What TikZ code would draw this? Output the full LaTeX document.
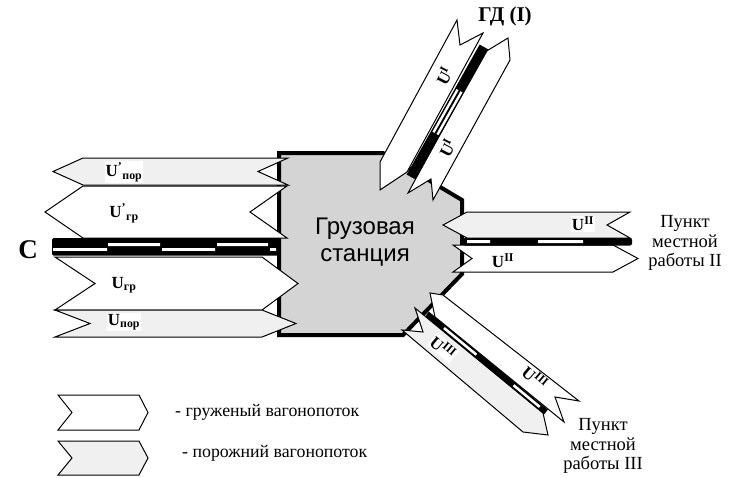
\documentclass[tikz,border=0pt]{standalone}
\usepackage{fontspec}
\setmainfont{Liberation Serif}
\newfontfamily\arialf{Liberation Sans}
\definecolor{stgray}{HTML}{D4D4D4}
\definecolor{emptyfill}{HTML}{F0F0F0}
\begin{document}
\begin{tikzpicture}[x=1pt,y=-1pt,
  loaded/.style={draw=black, line width=1pt, line join=miter, fill=white},
  emptyflow/.style={draw=black, line width=1pt, line join=miter, fill=emptyfill},
  lbl/.style={font=\bfseries\fontsize{17}{17}\selectfont, inner sep=1pt},
  txt/.style={font=\fontsize{18.5}{19.5}\selectfont, align=center, inner sep=0pt},
  legtxt/.style={font=\fontsize{17.8}{19}\selectfont, inner sep=0pt, anchor=west},
  railwhite/.style={white, line width=2.4pt}]
\useasboundingbox (0,0) rectangle (731,477);

% station
\draw[fill=stgray, line width=4pt, line join=miter]
  (279,153) -- (383,153) -- (462,200) -- (462,274) -- (403,335) -- (279,335) -- cycle;
\node[font=\arialf\fontsize{24}{27}\selectfont, align=center, inner sep=0pt] (st) at (365,242) {Грузовая\\станция};

% left flows
\draw[emptyflow] (288,158) -- (83,158) -- (53,171.5) -- (83,185) -- (288,185) -- (258,171.5) -- cycle;
\draw[loaded] (287,186) -- (83,186) -- (45,212) -- (83,238) -- (287,238) -- (250,212) -- cycle;
\draw[loaded] (55,257) -- (262,257) -- (298,283.5) -- (262,310) -- (55,310) -- (95,283.5) -- cycle;
\draw[emptyflow] (55,310) -- (262,310) -- (296,323.5) -- (262,337) -- (55,337) -- (90,323.5) -- cycle;

% rail C
\fill[black, rounded corners=1.5pt] (52,238) rectangle (280,255.5);
\fill[white] (108,243.2) rectangle (160,246) (217,243.2) rectangle (268,246);
\fill[white] (53,248.2) rectangle (107,250.8) (162,248.2) rectangle (215,250.8) (270,248.2) rectangle (276,250.8);

% II flows
\draw[emptyflow] (630,212) -- (467,212) -- (443,225) -- (467,238) -- (630,238) -- (607,225) -- cycle;
\draw[loaded] (453,245) -- (613,245) -- (638,258.5) -- (613,272) -- (453,272) -- (472,258.5) -- cycle;
\fill[black, rounded corners=2pt] (463,238) rectangle (632,245.5);
\fill[white] (467,240) rectangle (490,243) (538,240) rectangle (583,243);

% GD flows
\draw[loaded] (380,190) -- (380,162) -- (457,20) -- (460,45) -- (483,33) -- (407,172) -- cycle;
\draw[loaded] (408,193) -- (485,52) -- (508,38) -- (510,60) -- (433,200) -- (431,179) -- cycle;
\draw[line width=10pt] (411,177) -- (484,47);
\draw[railwhite] (437.5,134.5) -- (461.5,91.8);
\draw[railwhite] (433.5,132.3) -- (457.5,89.6);

% III flows
\draw[loaded] (430,293) -- (443,295) -- (579,401) -- (555,397) -- (564,422) -- (435,317) -- cycle;
\draw[emptyflow] (415,308) -- (543,413) -- (548,435) -- (523,432) -- (402,330) -- (423,332) -- cycle;
\draw[line width=6pt] (427,314) -- (546,412);
\draw[white, line width=2.6pt] (444,328) -- (476.4,354.7);
\draw[white, line width=2.6pt] (513.5,385.2) -- (539.7,406.9);

% flow labels
\node[lbl, fill=white] (l1) at (124,172) {U\textsuperscript{’}\textsubscript{пор}};
\node[lbl] (l2) at (124,213) {U\textsuperscript{’}\textsubscript{гр}};
\node[lbl] (l3) at (124,285) {U\textsubscript{гр}};
\node[lbl, fill=white] (l4) at (124,322) {U\textsubscript{пор}};
\node[lbl, fill=white] (l5) at (583,224) {U\textsuperscript{II}};
\node[lbl] (l6) at (503,261) {U\textsuperscript{II}};
\node[lbl, rotate=62] (l7) at (444,76) {U\textsuperscript{I}};
\node[lbl, rotate=62] (l8) at (447,148) {U\textsuperscript{I}};
\node[lbl, fill=white, rotate=-40] (l9) at (443,348) {U\textsuperscript{III}};
\node[lbl, rotate=-40] (l10) at (535,378) {U\textsuperscript{III}};

% titles
\node[font=\bfseries\fontsize{21}{21}\selectfont, inner sep=0pt] (gd) at (505,16) {ГД (I)};
\node[font=\bfseries\fontsize{27}{27}\selectfont, inner sep=0pt] (c) at (28,250) {С};
\node[txt] (p2) at (685,243) {Пункт\\местной\\работы II};
\node[txt] (p3) at (603,446) {Пункт\\местной\\работы III};

% legend
\draw[loaded] (58,395) -- (139,395) -- (148,412.5) -- (139,430) -- (58,430) -- (72,412.5) -- cycle;
\draw[emptyflow] (58,441) -- (139,441) -- (148,458) -- (139,475) -- (58,475) -- (72,458) -- cycle;
\node[legtxt] (lg1) at (175,412) {- груженый вагонопоток};
\node[legtxt] (lg2) at (182,453) {- порожний вагонопоток};
\end{tikzpicture}
\end{document}
